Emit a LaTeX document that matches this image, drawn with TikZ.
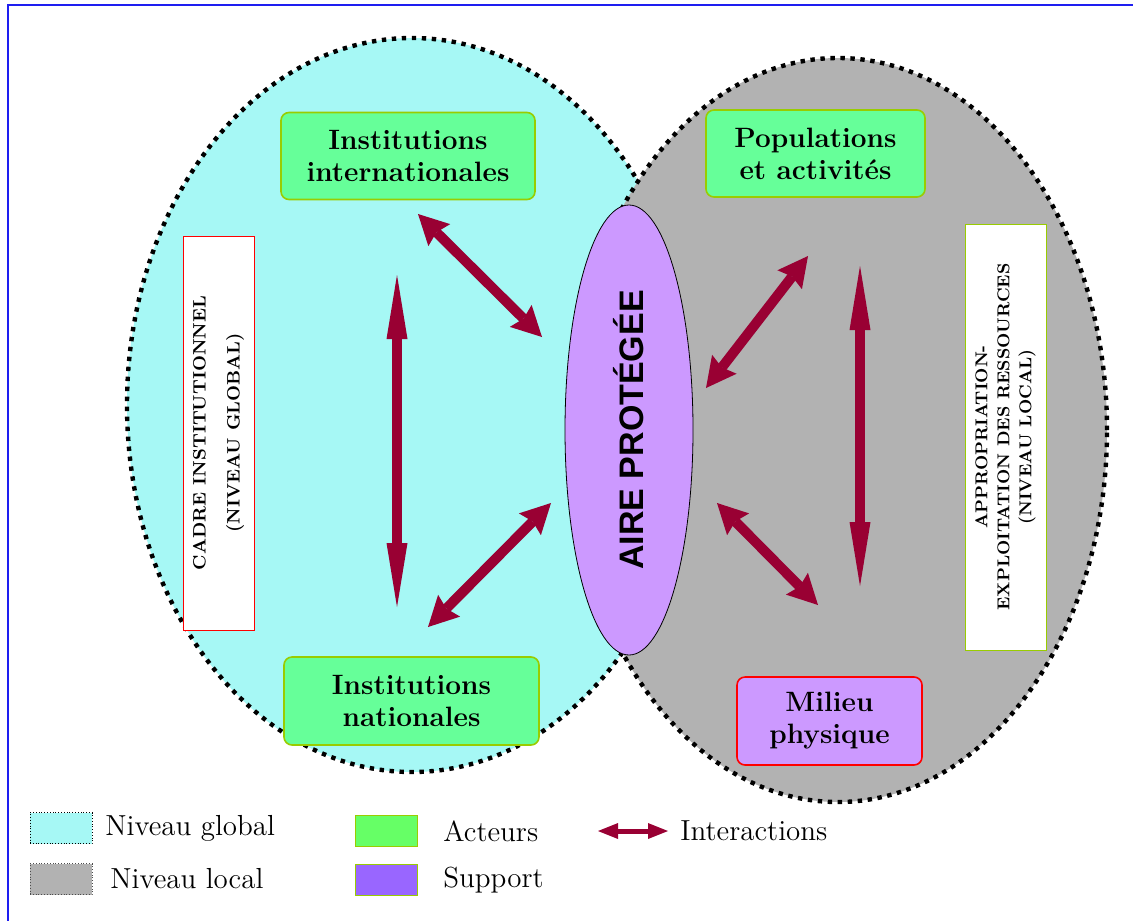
\documentclass[tikz,border=0pt]{standalone}
\usepackage{fontspec}
\newfontfamily\grotesk{Liberation Sans}
\usetikzlibrary{shapes.geometric,arrows.meta}
\definecolor{bleuciel}{RGB}{166,248,245}
\definecolor{grismoyen}{RGB}{178,178,178}
\definecolor{vertacteur}{RGB}{102,255,153}
\definecolor{vertlegende}{RGB}{102,255,102}
\definecolor{mauve}{RGB}{204,153,255}
\definecolor{violet}{RGB}{153,102,255}
\definecolor{jaunevert}{RGB}{153,204,0}
\definecolor{bordeaux}{RGB}{153,0,51}
\definecolor{cadrebleu}{RGB}{30,30,240}

\begin{document}
\begin{tikzpicture}[
    x=0.5pt, y=-0.5pt,
    niveau/.style={ellipse, draw=black, line width=2.2pt,
        dash pattern=on 2.2pt off 2.8pt, inner sep=0pt},
    acteur/.style={rectangle, rounded corners=4pt, fill=vertacteur,
        draw=jaunevert, thick, align=center,
        font=\fontsize{14}{16}\selectfont\bfseries},
    cadre/.style={rectangle, fill=white, thin, align=center, rotate=90,
        font=\fontsize{8.6}{11}\selectfont\bfseries},
    lien/.style={draw=bordeaux, line width=5pt,
        {Stealth[length=15pt,width=15.5pt,inset=2pt,line width=0pt]}-{Stealth[length=15pt,width=15.5pt,inset=2pt,line width=0pt]}},
    lienlong/.style={draw=bordeaux, line width=5pt,
        {Triangle[length=32pt,width=10.5pt,line width=0pt]}-{Triangle[length=32pt,width=10.5pt,line width=0pt]}},
    legende/.style={anchor=west, inner sep=0pt,
        font=\fontsize{14.5}{17}\selectfont},
    carre/.style={rectangle, minimum width=31pt, minimum height=15.5pt,
        inner sep=0pt}
    ]
\useasboundingbox (0,0) rectangle (1133,921);
\draw[cadrebleu, line width=1pt] (1133,5) -- (8,5) -- (8,921);

% les deux niveaux
\node[niveau, fill=bleuciel, minimum width=285pt, minimum height=367pt] (global) at (412,405) {};
\node[niveau, fill=grismoyen, minimum width=269pt, minimum height=372pt] (local) at (838,430) {};

% le support
\node[ellipse, rotate=90, draw=black, fill=mauve, minimum width=225pt,
    minimum height=64pt, inner sep=0pt,
    font=\grotesk\fontsize{17}{20}\selectfont\bfseries] (aire) at (629,430) {AIRE PROTÉGÉE};

% les acteurs
\node[acteur, minimum width=127pt, minimum height=43.5pt] (inter) at (408,156) {Institutions\\internationales};
\node[acteur, minimum width=109.5pt, minimum height=43.5pt] (pop) at (815.5,153.5) {Populations\\et activités};
\node[acteur, minimum width=127.5pt, minimum height=44pt] (nat) at (411.5,701) {Institutions\\nationales};
\node[acteur, fill=mauve, draw=red, minimum width=92.5pt, minimum height=44pt] (milieu) at (829.5,721) {Milieu\\physique};

% les cadres
\node[cadre, draw=red, minimum width=197pt, minimum height=35.5pt,
    font=\fontsize{9}{17}\selectfont\bfseries] (instit) at (218.5,433) {CADRE INSTITUTIONNEL\\(NIVEAU GLOBAL)};
\node[cadre, draw=jaunevert, minimum width=213pt, minimum height=40.5pt] (appro) at (1005.5,437) {APPROPRIATION-\\EXPLOITATION DES RESSOURCES\\(NIVEAU LOCAL)};

% interactions
\coordinate (g1) at (397,275);
\coordinate (g2) at (397,607);
\coordinate (ih) at (418,214);
\coordinate (ia) at (542,337);
\coordinate (nb) at (428,627);
\coordinate (na) at (551,503);
\coordinate (ph) at (808,256);
\coordinate (pa) at (706,388);
\coordinate (d1) at (860,266);
\coordinate (d2) at (860,586);
\coordinate (ma) at (717,503);
\coordinate (mb) at (818,605);
\draw[lienlong] (g1) -- (g2);
\draw[lien] (ih) -- (ia);
\draw[lien] (nb) -- (na);
\draw[lien] (ph) -- (pa);
\draw[lienlong] (d1) -- (d2);
\draw[lien] (ma) -- (mb);

% legende
\node[carre, fill=bleuciel, draw=black, densely dotted, thin] (lglobal) at (61,828) {};
\node[legende] (tglobal) at (105,828) {Niveau global};
\node[carre, fill=grismoyen, draw=black!70, densely dotted, thin] (llocal) at (61,879) {};
\node[legende] (tlocal) at (110,879) {Niveau local};
\node[carre, fill=vertlegende, draw=jaunevert] (lacteur) at (386,831) {};
\node[legende] (tacteur) at (443,831) {Acteurs};
\node[carre, fill=violet, draw=jaunevert] (lsupport) at (386,880) {};
\node[legende] (tsupport) at (443,880) {Support};
\coordinate (li1) at (598,831);
\coordinate (li2) at (668,831);
\draw[draw=bordeaux, line width=2.5pt,
    {Triangle[length=10pt,width=8pt,line width=0pt]}-{Triangle[length=10pt,width=8pt,line width=0pt]}] (li1) -- (li2);
\node[legende] (tinter) at (680,831) {Interactions};
\end{tikzpicture}
\end{document}
